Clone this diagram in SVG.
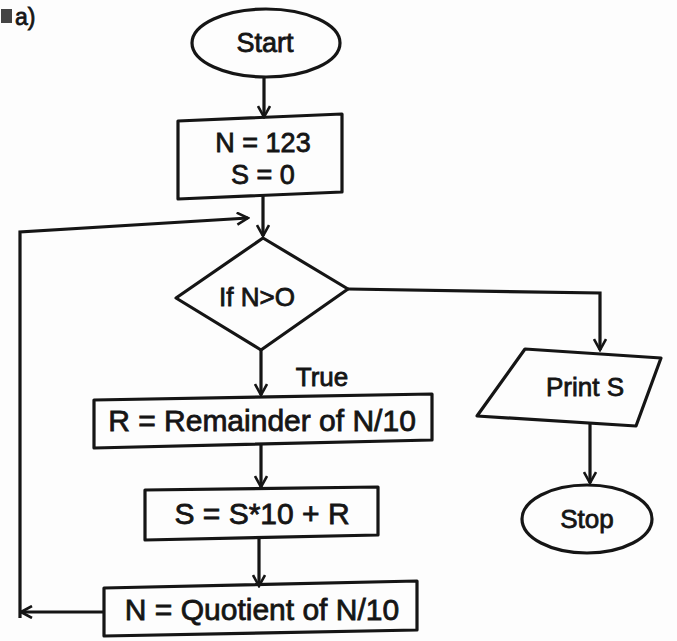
<svg xmlns="http://www.w3.org/2000/svg" width="677" height="641" viewBox="0 0 677 641">
<style>
.s{fill:none;stroke:#151515;stroke-width:3.2;stroke-linejoin:round}
.t{font-family:"Liberation Sans",Arial,sans-serif;fill:#151515;stroke:#151515;stroke-width:0.8;text-anchor:middle;dominant-baseline:central}
.c{fill:none;stroke:#151515;stroke-width:3.2}
</style>
<defs>
<marker id="ar" viewBox="0 0 14 14" refX="12" refY="7" markerWidth="14" markerHeight="14" markerUnits="userSpaceOnUse" orient="auto">
<polyline points="1,1 12,7 1,13" fill="none" stroke="#151515" stroke-width="2.6"/>
</marker>
</defs>
<rect width="677" height="641" fill="#fdfdfd"/>
<g id="label">
<rect x="1" y="9" width="11" height="14" fill="#444"/>
<text x="15" y="17" class="t" style="text-anchor:start;font-size:23px">a)</text>
</g>
<g id="connectors">
<line class="c" x1="264" y1="77" x2="264" y2="117" marker-end="url(#ar)"/>
<line class="c" x1="263" y1="196" x2="263" y2="236" marker-end="url(#ar)"/>
<polyline class="c" points="348,289 600,293 600,350" marker-end="url(#ar)"/>
<line class="c" x1="261" y1="350" x2="261" y2="395" marker-end="url(#ar)"/>
<line class="c" x1="261" y1="444" x2="261" y2="487" marker-end="url(#ar)"/>
<line class="c" x1="259" y1="538" x2="259" y2="586" marker-end="url(#ar)"/>
<line class="c" x1="104" y1="612" x2="21" y2="612" marker-end="url(#ar)"/>
<polyline class="c" points="20,618 20,232 248,218" marker-end="url(#ar)"/>
<line class="c" x1="590" y1="424" x2="590" y2="483" marker-end="url(#ar)"/>
<text x="322" y="377" class="t" style="font-size:26px">True</text>
</g>
<g id="start">
<ellipse class="s" cx="266" cy="43" rx="74" ry="34"/>
<text x="265" y="43" class="t" style="font-size:27px">Start</text>
</g>
<g id="init">
<polygon class="s" points="178,121 342,114 342,192 178,199"/>
<text x="263" y="143" class="t" style="font-size:27px">N = 123</text>
<text x="263" y="175" class="t" style="font-size:27px">S = 0</text>
</g>
<g id="decision">
<polygon class="s" points="263,238 348,289 261,350 176,298"/>
<text x="257" y="297" class="t" style="font-size:26px">If N&gt;O</text>
</g>
<g id="remainder">
<polygon class="s" points="94,400 432,394 432,440 94,448"/>
<text x="262" y="420" class="t" style="font-size:30px">R = Remainder of N/10</text>
</g>
<g id="sum">
<polygon class="s" points="145,490 378,487 378,535 145,540"/>
<text x="262" y="513" class="t" style="font-size:30px">S = S*10 + R</text>
</g>
<g id="quotient">
<polygon class="s" points="104,588 417,581 417,630 104,636"/>
<text x="262" y="609" class="t" style="font-size:30px">N = Quotient of N/10</text>
</g>
<g id="print">
<polygon class="s" points="525,349 661,358 636,426 477,416"/>
<text x="585" y="387" class="t" style="font-size:26px">Print S</text>
</g>
<g id="stop">
<ellipse class="s" cx="587" cy="519" rx="65" ry="34"/>
<text x="587" y="519" class="t" style="font-size:26px">Stop</text>
</g>
</svg>
